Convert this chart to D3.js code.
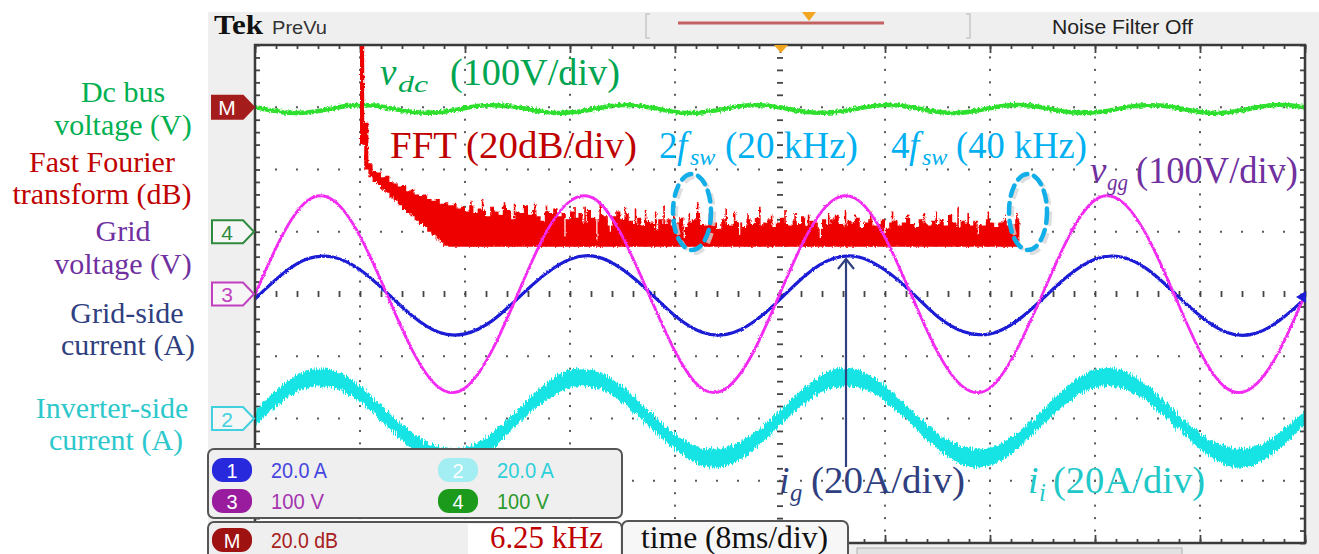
<!DOCTYPE html>
<html>
<head>
<meta charset="utf-8">
<script src="https://cdn.jsdelivr.net/npm/d3@7"></script>
<style>
  html, body { margin: 0; padding: 0; background: #fff; }
  svg { display: block; }
  .ui { font-family: "Liberation Sans Narrow", "Liberation Sans", Arial, sans-serif; }
  .ann { font-family: "Liberation Serif", "DejaVu Serif", serif; }
</style>
</head>
<body>
<svg id="chart" width="1319" height="554"></svg>
<script>
// sample times (ms) of the traces
const timeFine = d3.range(0, 81, 1);
const timeCoarse = d3.range(0, 81, 2);

// ch4, dc bus voltage (V), 1 ms samples
const vdc = [
  199.9, 196.0, 192.5, 190.9, 191.6, 194.5, 198.4, 201.9, 203.5, 202.8,
  199.6, 195.8, 192.2, 191.1, 191.9, 194.8, 198.6, 202.2, 203.3, 202.5,
  199.8, 196.3, 192.6, 190.7, 191.4, 194.2, 198.1, 201.7, 203.6, 203.0,
  200.1, 196.2, 192.4, 190.8, 191.7, 194.6, 198.5, 202.0, 203.4, 202.6,
  199.7, 195.9, 192.3, 191.0, 191.8, 194.4, 198.3, 201.8, 203.7, 202.9,
  199.9, 196.1, 192.7, 190.8, 191.5, 194.7, 198.6, 202.1, 203.5, 202.7,
  199.5, 195.7, 192.2, 190.9, 191.8, 194.5, 198.2, 201.9, 203.3, 202.8,
  200.0, 196.0, 192.5, 191.0, 191.6, 194.3, 198.4, 202.0, 203.6, 202.9,
  199.8
];

// ch3, grid voltage (V), 2 ms samples
const vgg = [
  -1, 91, 150, 150, 93, 2, -91, -150, -151, -93,
  -1, 92, 149, 151, 92, 0, -92, -151, -150, -92,
  1, 93, 150, 150, 91, -1, -93, -150, -151, -91,
  0, 92, 151, 149, 92, 1, -92, -151, -150, -93,
  -1
];

// ch1, grid-side current (A), 2 ms samples
const ig = [
  -1.6, 6.1, 11.3, 11.8, 7.8, 0.6, -7.1, -12.3, -12.8, -8.8,
  -1.5, 6.0, 11.2, 12.0, 7.9, 0.8, -7.0, -12.2, -12.9, -8.9,
  -1.7, 6.2, 11.3, 11.9, 7.7, 0.7, -7.2, -12.1, -12.8, -8.8,
  -1.6, 6.0, 11.2, 11.9, 7.9, 0.6, -7.0, -12.3, -12.9, -8.7,
  -1.5
];

// ch2, inverter-side current (A), 2 ms samples: band centre and ripple half width
const ii = [
  0.3, 7.9, 12.7, 12.6, 7.9, 0.2, -7.3, -12.1, -12.2, -7.4,
  0.4, 8.0, 12.8, 12.5, 7.8, 0.1, -7.4, -12.2, -12.1, -7.3,
  0.3, 7.8, 12.7, 12.7, 8.0, 0.3, -7.2, -12.0, -12.3, -7.5,
  0.2, 7.9, 12.8, 12.6, 7.9, 0.2, -7.3, -12.1, -12.2, -7.4,
  0.4
];
const iiRipple = [
  2.1, 2.3, 2.6, 2.6, 2.3, 2.0, 2.3, 2.7, 2.7, 2.3,
  2.0, 2.4, 2.6, 2.5, 2.3, 2.1, 2.2, 2.6, 2.7, 2.4,
  2.1, 2.3, 2.7, 2.6, 2.2, 2.0, 2.3, 2.7, 2.6, 2.3,
  2.1, 2.4, 2.6, 2.6, 2.3, 2.0, 2.2, 2.7, 2.7, 2.3,
  2.1
];

// math FFT (dB), 0.25 kHz bins from 0 kHz
const fftStep = 0.25;
const fftFloor = -44.8;
const fftTop = [
  30, -5, -18, -20.5, -21, -22.5, -22, -24, -24.5, -25.5, -25, -27,
  -26.5, -28, -28.5, -28, -29.5, -30, -29.5, -31, -30.5, -31.5, -31, -32.5,
  -32, -33.5, -31.5, -34, -32.5, -33, -35, -32,
  -33.5, -34.5, -32, -33, -36, -33.5, -34, -31.5,
  -34.5, -33, -35, -36.5, -33.5, -34, -32.5, -35,
  -34, -36, -33.5, -35.5, -34, -37, -33, -35.5,
  -36, -34.5, -35, -38, -35, -33.5, -36, -34,
  -36.5, -37.5, -35.5, -38, -36.5, -37, -39.5, -36,
  -37.5, -36, -38, -37, -35.5, -38.5, -37, -36,
  -34, -37.5, -38, -36.5, -37, -39, -36, -37.5,
  -38, -36.5, -37, -38.5, -36, -37.5, -35.5, -38,
  -37, -36, -38.5, -37, -35.5, -37.5, -38, -36.5,
  -37.5, -35, -38, -36.5, -37, -39, -36, -37.5,
  -36, -34.5, -37.5, -38, -36.5, -37, -35.5, -38.5,
  -37, -36, -38, -37.5, -36, -39, -37, -36.5,
  -38, -37, -35.5, -37.5, -38.5, -36, -37, -38,
  -36.5, -37.5, -36, -38, -34.5, -37, -38.5, -36.5,
  -37, -38, -36.5, -37.5, -38, -36, -37, -38.5,
  -37, -36.5, -38, -37.5, -36
];
const fftBottom = [
  -12, -20, -22.5, -24, -25, -26.5, -27.5, -29, -30, -31.5, -33, -34,
  -35, -36.5, -37.5, -38.5, -40, -41, -42.5, -43.5, -44.5
];
const fftSpikeKHz = [
  6.6, 7.3, 8.6, 9.2, 10.4, 11.1, 11.7, 12.8, 13.4, 14.3, 15.8, 16.4, 17.0, 17.6,
  18.1, 18.7, 19.6, 20.1, 20.8, 21.8, 22.3, 23.1, 23.8, 24.5, 25.3, 25.9, 26.7,
  27.9, 28.9, 29.5, 30.4, 31.7, 32.6, 33.6, 34.3, 35.6, 36.2, 37.4, 38.4, 39.1
];
const fftSpikeDb = [
  -30, -29.5, -30.5, -31, -31, -31.5, -32.5, -32, -32, -31, -32, -32.5, -33, -33.5,
  -31.5, -33, -34, -30.5, -34, -32.5, -33.5, -34, -32, -34.5, -33, -34, -34.5,
  -34, -33, -34.5, -33.5, -33.5, -34.5, -34, -33.5, -32, -34, -33.5, -34.5, -34
];
const fftDipKHz = [12.2, 14.1, 14.9, 19.3, 22.6, 27.4, 31.2, 36.8];
const fftDipDb = [-41.5, -42.5, -40, -42, -41, -42, -40.5, -41];

// channel settings: offset (div) and scale (units/div)
const ch1 = { offset: 0, perDiv: 20 };
const ch2 = { offset: -2, perDiv: 20 };
const ch3 = { offset: 0, perDiv: 100 };
const ch4 = { offset: 1, perDiv: 100 };
const chM = { offset: 3, perDiv: 20 };

const svg = d3.select("#chart");

// define graticule and trace scales
const gx = d3.scaleLinear().domain([-5, 5]).range([255, 1305]);
const gy = d3.scaleLinear().domain([-4, 4]).range([543, 45]);
const x = d3.scaleLinear().domain([0, 80]).range([255, 1305]);
const xf = d3.scaleLinear().domain([-6.25, 56.25]).range([255, 1305]);
function chY(ch) {
  return function(v) { return gy(ch.offset + v / ch.perDiv); };
}

// defs: clip and roughness filters
const defs = svg.append("defs");
defs.append("clipPath").attr("id", "plotClip")
  .append("rect").attr("x", 255).attr("y", 45).attr("width", 1050).attr("height", 498);
function roughFilter(id, freq, scale, seed) {
  const f = defs.append("filter").attr("id", id)
    .attr("filterUnits", "userSpaceOnUse")
    .attr("x", 0).attr("y", 0).attr("width", 1319).attr("height", 554);
  f.append("feTurbulence").attr("type", "fractalNoise")
    .attr("baseFrequency", freq).attr("numOctaves", 2).attr("seed", seed).attr("result", "n");
  f.append("feDisplacementMap").attr("in", "SourceGraphic").attr("in2", "n")
    .attr("scale", scale).attr("xChannelSelector", "R").attr("yChannelSelector", "G");
}
roughFilter("roughThin", "0.6 0.6", 2.5, 2);
roughFilter("roughGreen", "0.5 0.4", 4.5, 5);
roughFilter("roughBand", "0.9 0.12", 9, 7);
roughFilter("roughFft", "0.9 0.3", 3, 11);

// scope screen background
svg.append("rect").attr("x", 208).attr("y", 12).attr("width", 1111).attr("height", 542).attr("fill", "#efefef");
svg.append("rect").attr("x", 255).attr("y", 45).attr("width", 1050).attr("height", 498).attr("fill", "#fff");

// grid dots
const minorX = d3.range(0, 51).map(function(i) { return -5 + i / 5; });
const minorY = d3.range(0, 41).map(function(i) { return -4 + i / 5; });
const majorX = d3.range(-5, 6);
const majorY = d3.range(-4, 5);
const grid = svg.append("g").attr("fill", "#5a5a5a");
majorX.filter(function(v) { return v !== 0 && Math.abs(v) !== 5; }).forEach(function(v) {
  grid.selectAll(null).data(minorY.slice(1, -1)).enter().append("rect")
    .attr("x", gx(v) - 1).attr("y", function(d) { return gy(d) - 1; })
    .attr("width", 2).attr("height", 2);
});
majorY.filter(function(v) { return v !== 0 && Math.abs(v) !== 4; }).forEach(function(v) {
  grid.selectAll(null).data(minorX.slice(1, -1)).enter().append("rect")
    .attr("x", function(d) { return gx(d) - 1; }).attr("y", gy(v) - 1)
    .attr("width", 2).attr("height", 2);
});

// graticule ticks via axes
function tickAxis(axis, tx, ty) {
  const g = svg.append("g")
    .attr("transform", "translate(" + tx + "," + ty + ")")
    .attr("color", "#454545")
    .call(axis);
  g.select(".domain").remove();
  g.selectAll("line").attr("stroke-width", 1.8);
  return g;
}
tickAxis(d3.axisBottom(gx).tickValues(minorX).tickSize(4).tickFormat(""), 0, 45);
tickAxis(d3.axisBottom(gx).tickValues(majorX).tickSize(8).tickFormat(""), 0, 45);
tickAxis(d3.axisTop(gx).tickValues(minorX).tickSize(4).tickFormat(""), 0, 543);
tickAxis(d3.axisTop(gx).tickValues(majorX).tickSize(8).tickFormat(""), 0, 543);
tickAxis(d3.axisRight(gy).tickValues(minorY).tickSize(5).tickFormat(""), 255, 0);
tickAxis(d3.axisLeft(gy).tickValues(minorY).tickSize(5).tickFormat(""), 1305, 0);
tickAxis(d3.axisRight(gy).tickValues(minorY).tickSize(6).tickFormat(""), gx(0) - 3, 0);
tickAxis(d3.axisBottom(gx).tickValues(minorX).tickSize(6).tickFormat(""), 0, gy(0) - 3);

// traces
const plot = svg.append("g").attr("clip-path", "url(#plotClip)");

// dc bus voltage
const yDc = chY(ch4);
plot.append("path")
  .datum(vdc)
  .attr("d", d3.line().curve(d3.curveNatural)
    .x(function(d, i) { return x(timeFine[i]); })
    .y(function(d) { return yDc(d); }))
  .attr("fill", "none").attr("stroke", "#2ee02e").attr("stroke-width", 4.5)
  .attr("filter", "url(#roughGreen)");

// FFT
const yM = chY(chM);
const bins = fftTop.map(function(d, i) {
  return { f: i * fftStep, top: d, bottom: i < fftBottom.length ? fftBottom[i] : fftFloor };
});
bins.push({ f: bins.length * fftStep, top: bins[bins.length - 1].top, bottom: fftFloor });
const fft = plot.append("g").attr("filter", "url(#roughFft)");
fft.append("path")
  .datum(bins)
  .attr("d", d3.area().curve(d3.curveStepAfter)
    .x(function(d) { return xf(d.f); })
    .y0(function(d) { return yM(d.bottom); })
    .y1(function(d) { return yM(d.top); }))
  .attr("fill", "#ee0000");
fft.selectAll(".fft-spike").data(fftSpikeKHz).enter().append("line")
  .attr("class", "fft-spike")
  .attr("x1", function(d) { return xf(d); }).attr("x2", function(d) { return xf(d); })
  .attr("y1", yM(fftFloor)).attr("y2", function(d, i) { return yM(fftSpikeDb[i]); })
  .attr("stroke", "#ee0000").attr("stroke-width", 1.6);
fft.selectAll(".fft-dip").data(fftDipKHz).enter().append("line")
  .attr("class", "fft-dip")
  .attr("x1", function(d) { return xf(d); }).attr("x2", function(d) { return xf(d); })
  .attr("y1", function(d) { return yM(fftTop[Math.round(d / fftStep)]) - 1; })
  .attr("y2", function(d, i) { return yM(fftDipDb[i]); })
  .attr("stroke", "#fff").attr("stroke-width", 1.2);

// inverter-side current band
const yIi = chY(ch2);
plot.append("path")
  .datum(ii)
  .attr("d", d3.area().curve(d3.curveNatural)
    .x(function(d, i) { return x(timeCoarse[i]); })
    .y0(function(d, i) { return yIi(d - iiRipple[i]); })
    .y1(function(d, i) { return yIi(d + iiRipple[i]); }))
  .attr("fill", "#14e4e4").attr("stroke", "#14e4e4").attr("stroke-width", 1.5)
  .attr("filter", "url(#roughBand)");

// grid-side current
const yIg = chY(ch1);
plot.append("path")
  .datum(ig)
  .attr("d", d3.line().curve(d3.curveNatural)
    .x(function(d, i) { return x(timeCoarse[i]); })
    .y(function(d) { return yIg(d); }))
  .attr("fill", "none").attr("stroke", "#1c1cd6").attr("stroke-width", 3.2)
  .attr("filter", "url(#roughThin)");

// grid voltage
const yVg = chY(ch3);
plot.append("path")
  .datum(vgg)
  .attr("d", d3.line().curve(d3.curveNatural)
    .x(function(d, i) { return x(timeCoarse[i]); })
    .y(function(d) { return yVg(d); }))
  .attr("fill", "none").attr("stroke", "#f22cf2").attr("stroke-width", 2.8)
  .attr("filter", "url(#roughThin)");

// graticule border
svg.append("rect").attr("x", 255).attr("y", 45).attr("width", 1050).attr("height", 498)
  .attr("fill", "none").attr("stroke", "#3a3a3a").attr("stroke-width", 2.5);

// trigger markers
svg.append("path").attr("d", "M774,45 L788,45 L781,53 Z").attr("fill", "#f2a620");
// ch1 marker at right edge
svg.append("path").attr("d", "M1296,297 L1306,291 L1306,303 Z").attr("fill", "#1c1cd6");

// header
svg.append("text").attr("class", "ann").attr("x", 214).attr("y", 34)
  .attr("font-size", 27).attr("font-weight", "bold").attr("fill", "#111")
  .attr("textLength", 49).attr("lengthAdjust", "spacingAndGlyphs").text("Tek");
svg.append("text").attr("class", "ui").attr("x", 272).attr("y", 34)
  .attr("font-size", 19).attr("fill", "#333")
  .attr("textLength", 55).attr("lengthAdjust", "spacingAndGlyphs").text("PreVu");
svg.append("path").attr("d", "M650,14 L646,14 L646,38 L650,38 M966,14 L970,14 L970,38 L966,38")
  .attr("fill", "none").attr("stroke", "#c8c8c8").attr("stroke-width", 1.5);
svg.append("line").attr("x1", 678).attr("x2", 884).attr("y1", 23).attr("y2", 23)
  .attr("stroke", "#c46262").attr("stroke-width", 3);
svg.append("path").attr("d", "M802,12 L816,12 L809,21 Z").attr("fill", "#f2a620");
svg.append("text").attr("class", "ui").attr("x", 1052).attr("y", 34)
  .attr("font-size", 20).attr("fill", "#222")
  .attr("textLength", 141).attr("lengthAdjust", "spacingAndGlyphs").text("Noise Filter Off");

// bottom slider
svg.append("rect").attr("x", 857).attr("y", 548).attr("width", 325).attr("height", 8)
  .attr("fill", "#e2e2e2").attr("stroke", "#b0b0b0").attr("stroke-width", 1);

// left channel markers
const markers = [
  { label: "M", y: gy(3), fill: "#a51c1c", stroke: "#a51c1c", text: "#fff" },
  { label: "4", y: gy(1), fill: "#f6f6f6", stroke: "#2e8b3e", text: "#2e8b3e" },
  { label: "3", y: gy(0), fill: "#f6f6f6", stroke: "#c040c0", text: "#c040c0" },
  { label: "2", y: gy(-2), fill: "#f6f6f6", stroke: "#40d0e0", text: "#40d0e0" }
];
const mk = svg.selectAll(".marker").data(markers).enter().append("g")
  .attr("class", "marker")
  .attr("transform", function(d) { return "translate(212," + d.y + ")"; });
mk.append("path").attr("d", "M0,-11.5 L31,-11.5 L42,0 L31,11.5 L0,11.5 Z")
  .attr("fill", function(d) { return d.fill; })
  .attr("stroke", function(d) { return d.stroke; }).attr("stroke-width", 2);
mk.append("text").attr("class", "ui").attr("x", 15).attr("y", 8)
  .attr("text-anchor", "middle").attr("font-size", 21)
  .attr("fill", function(d) { return d.text; })
  .text(function(d) { return d.label; });

// channel info boxes
svg.append("rect").attr("x", 208).attr("y", 449).attr("width", 414).attr("height", 69).attr("rx", 6)
  .attr("fill", "#efefef").attr("stroke", "#555").attr("stroke-width", 2);
svg.append("rect").attr("x", 208).attr("y", 522).attr("width", 414).attr("height", 40).attr("rx", 6)
  .attr("fill", "#efefef").attr("stroke", "#555").attr("stroke-width", 2);
svg.append("rect").attr("x", 468).attr("y", 524).attr("width", 152).attr("height", 30).attr("fill", "#fff");

const infos = [
  { label: "1", value: "20.0 A", x: 212, y: 470, pill: "#2828dc", color: "#4545e0", w: 56 },
  { label: "2", value: "20.0 A", x: 438, y: 470, pill: "#a2eef2", color: "#2ed0da", w: 57 },
  { label: "3", value: "100 V", x: 212, y: 501, pill: "#9a1c9e", color: "#a535b0", w: 53 },
  { label: "4", value: "100 V", x: 438, y: 501, pill: "#1c9a1c", color: "#2a9a2a", w: 52 },
  { label: "M", value: "20.0 dB", x: 212, y: 540, pill: "#9e1212", color: "#a82020", w: 67 }
];
const info = svg.selectAll(".info").data(infos).enter().append("g")
  .attr("class", "info")
  .attr("transform", function(d) { return "translate(" + d.x + "," + d.y + ")"; });
info.append("rect").attr("x", 0).attr("y", -12).attr("width", 40).attr("height", 24).attr("rx", 11)
  .attr("fill", function(d) { return d.pill; });
info.append("text").attr("class", "ui").attr("x", 20).attr("y", 7.5)
  .attr("text-anchor", "middle").attr("font-size", 20).attr("fill", "#fff")
  .text(function(d) { return d.label; });
info.append("text").attr("class", "ui").attr("x", 59).attr("y", 8)
  .attr("font-size", 22).attr("fill", function(d) { return d.color; })
  .attr("textLength", function(d) { return d.w; }).attr("lengthAdjust", "spacingAndGlyphs")
  .text(function(d) { return d.value; });

// time/div box
svg.append("rect").attr("x", 622).attr("y", 521).attr("width", 226).attr("height", 40).attr("rx", 6)
  .attr("fill", "#f7f7f7").attr("stroke", "#555").attr("stroke-width", 2);

// annotations: pieces placed at their own x, sub pieces dropped below the baseline
function richText(pieces, yPos, size, color) {
  pieces.forEach(function(p) {
    const t = svg.append("text").attr("class", "ann")
      .attr("x", p.x)
      .attr("y", p.sub ? yPos + size * 0.2 : yPos)
      .attr("font-size", p.sub ? size * 0.65 : size)
      .attr("fill", color)
      .text(p.text);
    if (p.italic) t.attr("font-style", "italic");
    if (p.w) t.attr("textLength", p.w).attr("lengthAdjust", "spacingAndGlyphs");
  });
}

const sideLabels = [
  { text: "Dc bus", x: 123, y: 102, color: "#00b050" },
  { text: "voltage (V)", x: 123, y: 135, color: "#00b050" },
  { text: "Fast Fourier", x: 102, y: 172, color: "#c00000" },
  { text: "transform (dB)", x: 102, y: 204, color: "#c00000" },
  { text: "Grid", x: 123, y: 241, color: "#7030a0" },
  { text: "voltage (V)", x: 123, y: 274, color: "#7030a0" },
  { text: "Grid-side", x: 127, y: 323, color: "#2f3f7f" },
  { text: "current (A)", x: 128, y: 355, color: "#2f3f7f" },
  { text: "Inverter-side", x: 112, y: 418, color: "#2ec8cc" },
  { text: "current (A)", x: 116, y: 450, color: "#2ec8cc" }
];
svg.selectAll(".side").data(sideLabels).enter().append("text")
  .attr("class", "ann side")
  .attr("x", function(d) { return d.x; }).attr("y", function(d) { return d.y; })
  .attr("text-anchor", "middle").attr("font-size", 30)
  .attr("fill", function(d) { return d.color; })
  .text(function(d) { return d.text; });

richText([
  { text: "v", italic: true, x: 380 },
  { text: "dc", italic: true, sub: true, x: 398, w: 30 },
  { text: "(100V/div)", x: 450, w: 170 }
], 85, 37, "#00a550");
richText([{ text: "FFT (20dB/div)", x: 390, w: 247 }], 158, 38, "#c00000");
richText([
  { text: "2", x: 659 },
  { text: "f", italic: true, x: 677 },
  { text: "sw", italic: true, sub: true, x: 690 },
  { text: "(20 kHz)", x: 725, w: 133 }
], 158, 37, "#00b0f0");
richText([
  { text: "4", x: 891 },
  { text: "f", italic: true, x: 909 },
  { text: "sw", italic: true, sub: true, x: 922 },
  { text: "(40 kHz)", x: 956, w: 131 }
], 158, 37, "#00b0f0");
richText([
  { text: "v", italic: true, x: 1090 },
  { text: "gg", italic: true, sub: true, x: 1107, w: 21 },
  { text: "(100V/div)", x: 1136, w: 162 }
], 183, 37, "#7030a0");
richText([
  { text: "i", italic: true, x: 779 },
  { text: "g", italic: true, sub: true, x: 790 },
  { text: "(20A/div)", x: 811, w: 154 }
], 493, 38, "#2f3f7f");
richText([
  { text: "i", italic: true, x: 1028 },
  { text: "i", italic: true, sub: true, x: 1039 },
  { text: "(20A/div)", x: 1053, w: 152 }
], 493, 38, "#20c8c8");
richText([{ text: "6.25 kHz", x: 490, w: 113 }], 548, 31, "#c00000");
richText([{ text: "time (8ms/div)", x: 641, w: 187 }], 548, 31, "#111");

// harmonic highlight ellipses
const rings = [{ f: 20, y: 212 }, { f: 40, y: 212 }];
rings.forEach(function(r) {
  const cx = xf(r.f) - 4;
  svg.append("ellipse").attr("cx", cx + 3).attr("cy", r.y + 3).attr("rx", 19).attr("ry", 38)
    .attr("fill", "none").attr("stroke", "#d6d6d6").attr("stroke-width", 4)
    .attr("stroke-dasharray", "11 7").attr("opacity", 0.8);
  svg.append("ellipse").attr("cx", cx).attr("cy", r.y).attr("rx", 19).attr("ry", 38)
    .attr("fill", "none").attr("stroke", "#12aee8").attr("stroke-width", 4.5)
    .attr("stroke-dasharray", "11 7").attr("stroke-linecap", "round");
});

// i_g pointer arrow
svg.append("line").attr("x1", 846).attr("x2", 846).attr("y1", 259).attr("y2", 467)
  .attr("stroke", "#2f3f7f").attr("stroke-width", 2.2);
svg.append("path").attr("d", "M838,269 L846,259 L854,269")
  .attr("fill", "none").attr("stroke", "#2f3f7f").attr("stroke-width", 2.2);
</script>
</body>
</html>
